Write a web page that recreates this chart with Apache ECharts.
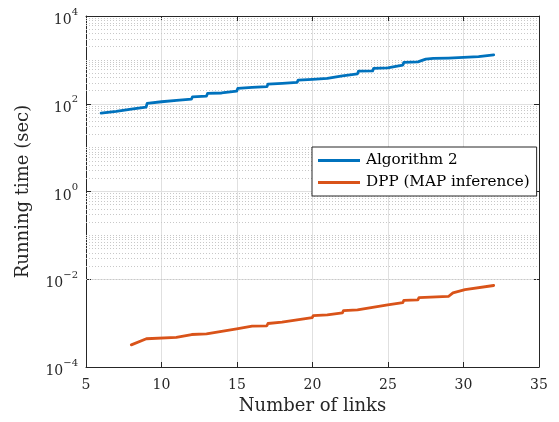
<!DOCTYPE html>
<html>
<head>
<meta charset="utf-8">
<script src="https://cdn.jsdelivr.net/npm/echarts@6/dist/echarts.min.js"></script>
<style>html,body{margin:0;padding:0;background:#fff}#c{width:559px;height:422px}</style>
</head>
<body>
<div id="c"></div>
<script>
// ---- data ----
const seriesNames = ['Algorithm 2', 'DPP (MAP inference)'];
const xTicks = [5, 10, 15, 20, 25, 30, 35];
const yTickExponents = [-4, -2, 0, 2, 4];
const algorithm2 = [
  [6, 61], [7, 67], [8, 75], [8.98, 84], [9.05, 102], [10, 111], [11, 119], [11.98, 127], [12.05, 144],
  [12.98, 150], [13.05, 172], [13.98, 176], [14.05, 183], [14.98, 194], [15.05, 223], [16, 235],
  [16.98, 245], [17.05, 280], [18, 292], [18.98, 306], [19.05, 346], [20, 360], [20.98, 378],
  [21.05, 411], [21.98, 434], [22.05, 467], [22.98, 480], [23.05, 555], [23.98, 560], [24.05, 640],
  [24.98, 660], [25.05, 733], [25.98, 760], [26.05, 877], [26.98, 900], [27.1, 988], [27.5, 1040],
  [28, 1080], [29, 1100], [30, 1140], [31, 1180], [32, 1300]
];
const dppMap = [
  [8, 3.2e-4], [9, 4.4e-4], [10.98, 4.75e-4], [11.05, 5.2e-4], [12, 5.5e-4], [12.98, 5.7e-4],
  [13.05, 6.3e-4], [13.98, 6.5e-4], [14.05, 7.1e-4], [14.98, 7.4e-4], [15.05, 8.0e-4], [16, 8.5e-4],
  [16.98, 8.7e-4], [17.05, 9.8e-4], [17.98, 1.05e-3], [18.05, 1.14e-3], [18.98, 1.18e-3],
  [19.05, 1.29e-3], [19.98, 1.33e-3], [20.05, 1.49e-3], [20.98, 1.55e-3], [21.05, 1.67e-3],
  [21.98, 1.72e-3], [22.05, 1.92e-3], [22.98, 2.0e-3], [23.05, 2.2e-3], [23.98, 2.3e-3],
  [24.05, 2.55e-3], [24.98, 2.6e-3], [25.05, 2.85e-3], [25.98, 2.95e-3], [26.05, 3.3e-3],
  [26.98, 3.4e-3], [27.05, 3.8e-3], [29, 4.05e-3], [29.3, 4.9e-3], [30.1, 5.8e-3], [32, 7.2e-3]
];

// ---- minor grid values (k * 10^n) ----
const minorVals = [];
for (let n = -4; n < 4; n++) {
  for (let k = 1; k <= 9; k++) {
    const v = k * Math.pow(10, n);
    if (k === 1 && n % 2 === 0) continue;
    minorVals.push(v);
  }
}

const FONT = 'DejaVu Serif';
const AX = '#262626';
const chart = echarts.init(document.getElementById('c'), null, {renderer: 'canvas'});
const supFmt = function (v) {
  const e = Math.round(Math.log10(v));
  const s = e < 0 ? '\u2212' + Math.abs(e) : String(e);
  return '{b|10}{s|' + s + '}';
};
chart.setOption({
  animation: false,
  backgroundColor: '#fff',
  grid: {left: 86, right: 20, top: 16, bottom: 55, containLabel: false},
  legend: {
    data: seriesNames,
    orient: 'vertical',
    left: 312, top: 147, z: 10,
    backgroundColor: '#fff',
    borderColor: AX, borderWidth: 1, borderRadius: 0,
    padding: [6, 7, 6, 6],
    itemGap: 7,
    icon: 'rect',
    itemWidth: 42, itemHeight: 3,
    textStyle: {fontFamily: FONT, fontSize: 15.2, color: '#000', padding: [0, 0, 0, 1]}
  },
  xAxis: [{
    type: 'value', min: xTicks[0], max: xTicks[xTicks.length - 1], interval: 5,
    name: 'Number of links', nameLocation: 'middle', nameGap: 26,
    nameTextStyle: {fontFamily: FONT, fontSize: 18, color: AX},
    axisLine: {show: true, lineStyle: {color: AX, width: 1}},
    axisTick: {show: true, inside: true, length: 5, lineStyle: {color: AX}},
    axisLabel: {fontFamily: FONT, fontSize: 14, color: AX, margin: 11},
    splitLine: {show: true, lineStyle: {color: '#e0e0e0', width: 1}}
  }, {
    type: 'value', position: 'top', min: 5, max: 35, interval: 5,
    axisLine: {show: true, lineStyle: {color: AX, width: 1}},
    axisTick: {show: true, inside: true, length: 5, lineStyle: {color: AX}},
    axisLabel: {show: false}, splitLine: {show: false}
  }],
  yAxis: [{
    type: 'log', logBase: 10, min: 1e-4, max: 1e4, interval: 2,
    name: 'Running time (sec)', nameLocation: 'middle', nameGap: 54, nameRotate: 90,
    nameTextStyle: {fontFamily: FONT, fontSize: 18, color: AX},
    axisLine: {show: true, lineStyle: {color: AX, width: 1}},
    axisTick: {show: true, inside: true, length: 5, lineStyle: {color: AX}},
    axisLabel: {
      formatter: supFmt, margin: 8, color: AX,
      rich: {
        b: {fontFamily: FONT, fontSize: 14, color: AX, padding: [9, 0, 0, 0]},
        s: {fontFamily: FONT, fontSize: 10, color: AX, padding: [0, 0, 8, 0]}
      }
    },
    splitLine: {show: true, lineStyle: {color: '#e0e0e0', width: 1}}
  }, {
    type: 'log', logBase: 10, min: 1e-4, max: 1e4, interval: 2, position: 'right',
    axisLine: {show: true, lineStyle: {color: AX, width: 1}},
    axisTick: {show: true, inside: true, length: 5, lineStyle: {color: AX}},
    axisLabel: {show: false}, splitLine: {show: false}
  }],
  series: [{
    name: 'minor-grid', type: 'line', data: [], silent: true, z: 1,
    markLine: {
      silent: true, symbol: 'none', animation: false, z: 1,
      label: {show: false},
      lineStyle: {color: '#c8c8c8', type: [1, 2], width: 1},
      data: minorVals.map(v => ({yAxis: v}))
    }
  }, {
    name: seriesNames[0], type: 'line', data: algorithm2, showSymbol: false, symbol: 'none',
    lineStyle: {color: '#0072BD', width: 2.8, join: 'round', cap: 'round'}, itemStyle: {color: '#0072BD'}, z: 3
  }, {
    name: seriesNames[1], type: 'line', data: dppMap, showSymbol: false, symbol: 'none',
    lineStyle: {color: '#D95319', width: 2.8, join: 'round', cap: 'round'}, itemStyle: {color: '#D95319'}, z: 3
  }]
});
</script>
</body>
</html>
